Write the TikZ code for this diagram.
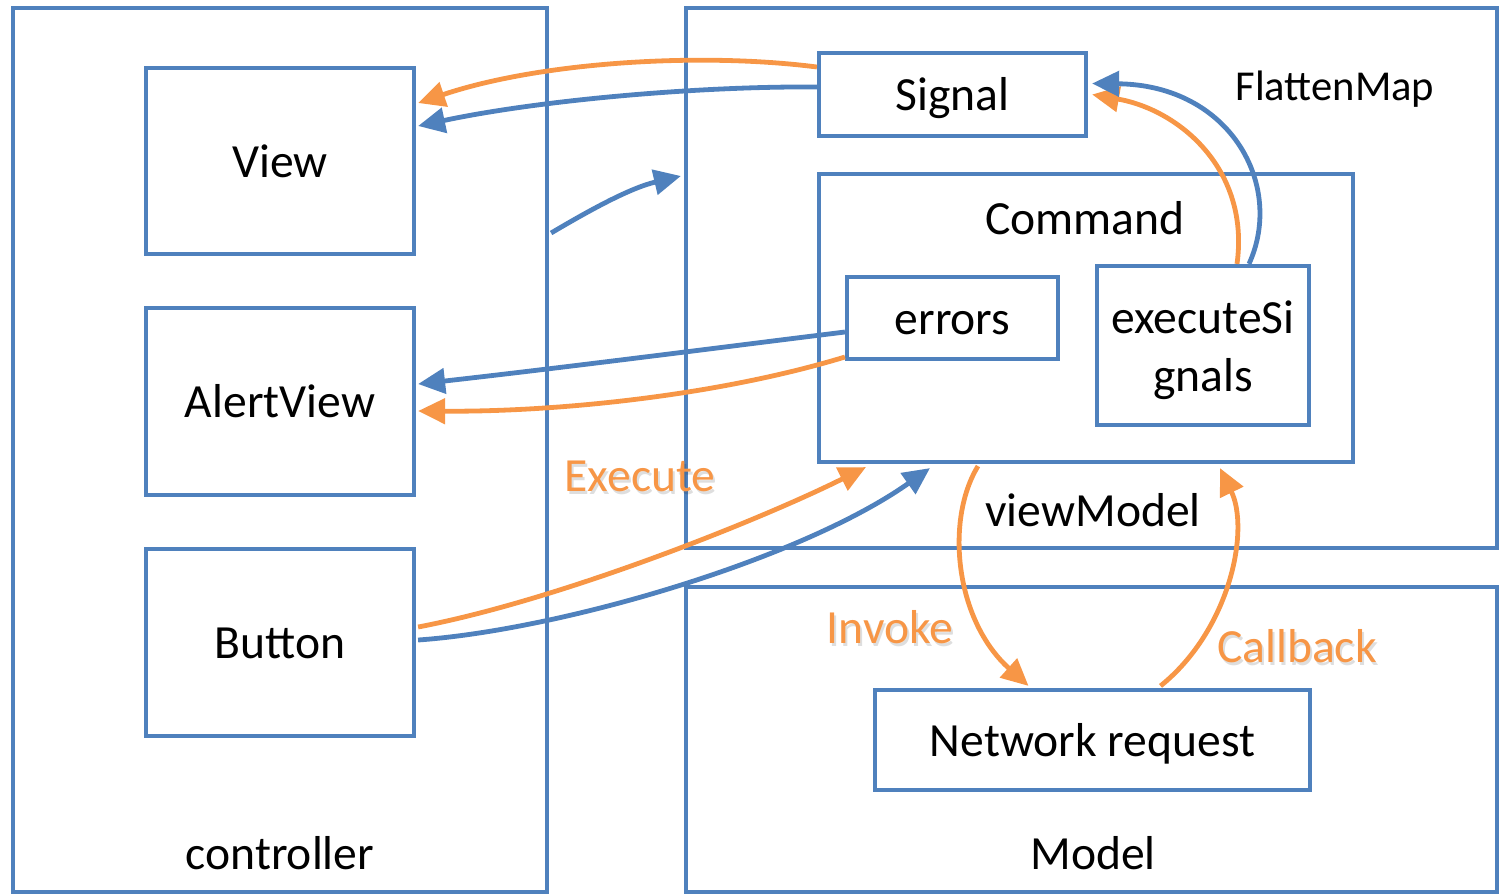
\documentclass[tikz,border=0pt]{standalone}
\usepackage{fontspec}
\setmainfont{Carlito}
\usetikzlibrary{arrows.meta,calc}
\definecolor{blu}{HTML}{4F81BD}
\definecolor{org}{HTML}{F79646}
\begin{document}
\begin{tikzpicture}[x=0.5pt,y=-0.5pt,
  box/.style={draw=blu,line width=2.1pt,inner sep=0pt,
    font=\fontsize{23.8}{29}\selectfont,text height=18.5pt,text depth=2.2pt},
  txt/.style={inner sep=0pt,font=\fontsize{23.8}{29}\selectfont,text height=18.5pt,text depth=2.2pt},
  otxt/.style={txt,text=org},
  stxt/.style={txt,text=black,opacity=0.13},
  barrow/.style={draw=blu,line width=2.4pt,-{Triangle[length=13.5pt,width=12.5pt]}},
  oarrow/.style={draw=org,line width=2.4pt,-{Triangle[length=13.5pt,width=12.5pt]}}]
\useasboundingbox (0,0) rectangle (1499,895);
% outer boxes
\node[box,minimum width=267pt,minimum height=442pt] (ctrl) at (280,450) {};
\node[box,minimum width=405.5pt,minimum height=270pt] (vm) at (1091.5,278) {};
\node[box,minimum width=405.5pt,minimum height=152.5pt] (model) at (1091.5,739.5) {};
% inner boxes
\node[box,minimum width=134pt,minimum height=93pt] (view) at (280,161) {View};
\node[box,minimum width=134pt,minimum height=93.5pt] (alert) at (280,401.5) {AlertView};
\node[box,minimum width=134pt,minimum height=93.5pt] (button) at (280,642.5) {Button};
\node[box,minimum width=133.5pt,minimum height=41.5pt] (signal) at (952.5,94.5) {Signal};
\node[box,minimum width=267pt,minimum height=144pt] (command) at (1086,318) {};
\node[box,minimum width=105.5pt,minimum height=41pt] (errors) at (952.5,318) {errors};
\node[box,minimum width=106pt,minimum height=79.5pt] (exec) at (1203,345.5) {};
\node[box,minimum width=217.5pt,minimum height=50pt] (net) at (1092.5,740) {Network request};
% labels
\node[inner sep=0pt,align=center,font=\fontsize{23.8}{29}\selectfont] (lexec) at ($(exec.center)+(0,5)$) {executeSi\\gnals};
\node[txt] (lctrl) at (280,853) {controller};
\node[txt] (lmodel) at (1093,853) {Model};
\node[txt] (lvm) at (1093,510) {viewModel};
\node[txt] (lcmd) at (1085,218) {Command};
\node[inner sep=0pt,font=\fontsize{21.3}{25}\selectfont] (lflat) at (1335,89) {FlattenMap};
\node[stxt] (lexes) at (642,478) {Execute};
\node[stxt] (linvs) at (892,630) {Invoke};
\node[stxt] (lcbs) at (1299,649) {Callback};
\node[otxt] (lexe) at (640,475) {Execute};
\node[otxt] (linv) at (890,627) {Invoke};
\node[otxt] (lcb) at (1297,646) {Callback};
% connectors
\draw[oarrow] ($(signal.west)+(0,-27.5)$) .. controls (700,52) and (540,62) .. ($(view.east)+(2,-58)$);
\draw[barrow] ($(signal.west)+(0,-7.5)$) .. controls (700,86) and (540,100) .. ($(view.east)+(2,-35)$);
\draw[barrow] ($(ctrl.east)+(2,-217)$) .. controls (590,210) and (630,188) .. ($(vm.west)+(-3,-102)$);
\draw[barrow] ($(errors.west)+(0,14)$) .. controls (700,350) and (560,368) .. ($(alert.east)+(2,-17.5)$);
\draw[oarrow] ($(errors.west)+(0,39)$) .. controls (720,395) and (560,412) .. ($(alert.east)+(2,9.5)$);
\draw[oarrow] ($(button.east)+(2,-15.5)$) .. controls (560,600) and (760,520) .. ($(command.south)+(-220,3)$);
\draw[barrow] ($(button.east)+(2,-2.5)$) .. controls (560,630) and (800,560) .. ($(command.south)+(-156,4)$);
\draw[oarrow] ($(exec.north)+(34,0)$) .. controls (1250,170) and (1180,110) .. ($(signal.east)+(4,0)$);
\draw[barrow] ($(exec.north)+(46,0)$) .. controls (1285,185) and (1230,85) .. ($(signal.east)+(4,-11)$);
\draw[oarrow] ($(command.south)+(-108,2)$) .. controls (945,520) and (955,620) .. ($(net.north)+(-64,-2)$);
\draw[oarrow] ($(net.north)+(68,-2)$) .. controls (1230,630) and (1250,530) .. ($(command.south)+(134,4)$);
\end{tikzpicture}
\end{document}
